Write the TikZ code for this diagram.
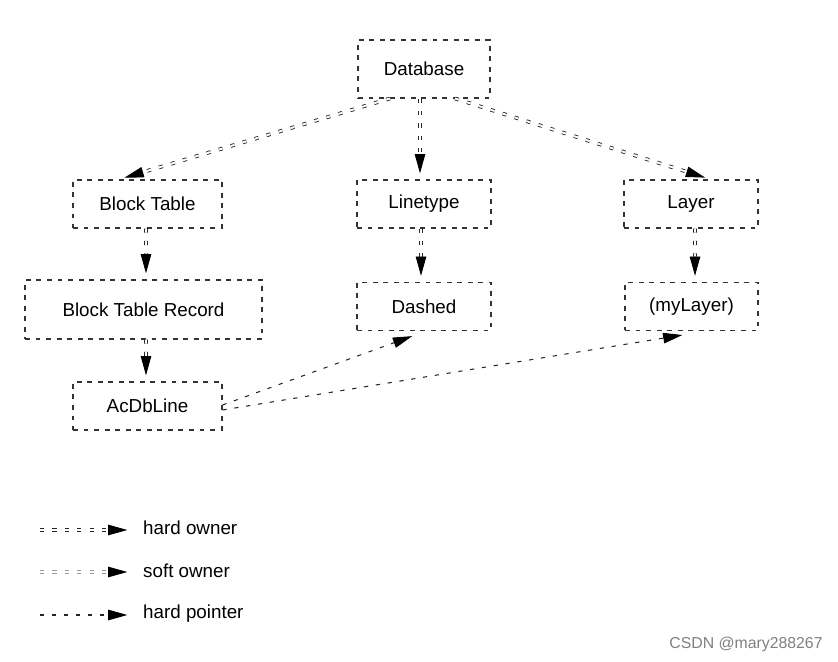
\documentclass[tikz,border=0pt]{standalone}
\usepackage{fontspec}
\setmainfont{Liberation Sans}
\usetikzlibrary{arrows.meta}

\begin{document}
\begin{tikzpicture}[x=0.02cm, y=-0.02cm, font=\fontsize{10.7}{13}\selectfont,
    obj/.style={draw=black!80, line width=0.6pt, dash pattern=on 2.8pt off 3.2pt,
        minimum height=0.96cm, inner sep=0pt},
    tip/.style={-{Triangle[length=11pt, width=6pt, black]}, shorten >=3.5pt},
    hardowner/.style={tip, draw=black!85, line width=0.5pt, double=white,
        double distance=1.1pt, dash pattern=on 2.3pt off 4.8pt},
    softowner/.style={hardowner, draw=black!40},
    hardpointer/.style={tip, draw=black!85, line width=0.6pt, dash pattern=on 2.4pt off 4.4pt}]

    % page frame
    \useasboundingbox (0,0) rectangle (838,662);

    % Database at the top
    \node[obj, minimum width=2.64cm, minimum height=1.16cm] (db) at (424,69) {Database};

    % the three symbol tables
    \node[obj, minimum width=2.98cm] (bt) at (147.5,204) {Block Table};
    \node[obj, minimum width=2.68cm] (lt) at (424,204) {Linetype};
    \node[obj, minimum width=2.68cm] (ly) at (691,204) {Layer};

    % their records
    \node[obj, minimum width=4.74cm, minimum height=1.18cm] (btr) at (143.5,309.5) {Block Table Record};
    \node[obj, minimum width=2.68cm] (dsh) at (424,306.5) {Dashed};
    \node[obj, minimum width=2.66cm] (myl) at (691.5,306.5) {(myLayer)};

    % the entity
    \node[obj, minimum width=2.98cm] (acl) at (147.5,406) {AcDbLine};

    % Database owns the tables
    \draw[hardowner] ([xshift=-0.68cm]db.south) -- ([xshift=-0.58cm]bt.north);
    \draw[hardowner] ([xshift=-0.08cm]db.south) -- ([xshift=-0.08cm]lt.north);
    \draw[hardowner] ([xshift=0.62cm]db.south) -- ([xshift=0.4cm]ly.north);

    % tables own their records
    \draw[hardowner] ([xshift=-0.03cm]bt.south) -- ([xshift=0.05cm]btr.north);
    \draw[hardowner] ([xshift=-0.06cm]lt.south) -- ([xshift=-0.06cm]dsh.north);
    \draw[hardowner] ([xshift=0.08cm]ly.south) -- ([xshift=0.07cm]myl.north);

    % record owns the line
    \draw[hardowner] ([xshift=0.05cm]btr.south) -- ([xshift=-0.03cm]acl.north);

    % the line points to its linetype and layer
    \draw[hardpointer] ([yshift=0.02cm]acl.east) -- ([xshift=-0.12cm,yshift=-0.06cm]dsh.south);
    \draw[hardpointer] ([yshift=-0.08cm]acl.east) -- ([xshift=-0.06cm,yshift=-0.06cm]myl.south);

    % legend
    \node[anchor=west] (lg1) at (137,528) {hard owner};
    \node[anchor=west] (lg2) at (137,571) {soft owner};
    \node[anchor=west] (lg3) at (137,614) {hard pointer};
    \coordinate (s1) at (40,530);
    \coordinate (s2) at (40,572);
    \coordinate (s3) at (40,615);
    \draw[hardowner, shorten >=5.5pt] (s1) -- (s1 -| lg1.west);
    \draw[softowner, shorten >=5.5pt] (s2) -- (s2 -| lg2.west);
    \draw[hardpointer, shorten >=5.5pt] (s3) -- (s3 -| lg3.west);

    % watermark
    \node[text=black!50, font=\fontsize{9}{11}\selectfont] (wm) at (746,644) {CSDN @mary288267};
\end{tikzpicture}
\end{document}
